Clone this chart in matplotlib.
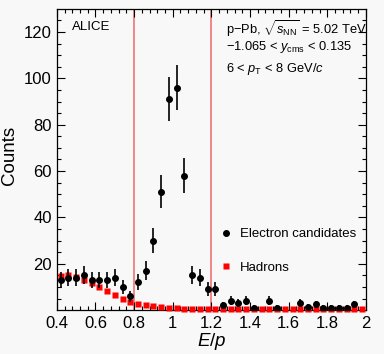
import matplotlib.pyplot as plt
import numpy as np
from matplotlib.lines import Line2D

plt.rcParams['font.family'] = ['Liberation Sans', 'DejaVu Sans']
plt.rcParams['mathtext.fontset'] = 'custom'
plt.rcParams['mathtext.rm'] = 'Liberation Sans'
plt.rcParams['mathtext.it'] = 'Liberation Sans:italic'
plt.rcParams['mathtext.sf'] = 'Liberation Sans'

# E/p bin centres (bin width 0.04)
ep = np.arange(0.42, 2.0, 0.04)

electrons = [13, 14, 14, 15, 13, 13, 13, 14, 10, 6,
             12, 17, 30, 51, 91, 96, 58, 15, 14, 9,
             9, 2, 4, 3, 4, 1, 0, 4, 1, 0,
             0, 3, 1.5, 2.5, 1, 1, 1, 1, 2.5, 0]
electron_err = [3.6, 3.7, 3.7, 3.9, 3.6, 3.6, 3.6, 3.7, 3.2, 2.4,
                3.5, 4.1, 5.5, 7.1, 9.5, 9.8, 7.6, 3.9, 3.7, 3.0,
                3.0, 1.4, 2.0, 1.7, 2.0, 1.0, 0, 2.0, 1.0, 0,
                0, 1.7, 1.2, 1.6, 1.0, 1.0, 1.0, 1.0, 1.6, 0]

hadrons = [14.7, 15, 14.4, 13, 11.8, 10, 8.4, 6.5, 5, 3.5,
           2.6, 2.2, 1.6, 1.3, 1.1, 0.7, 0.6, 0.5, 0.5, 0.4,
           0.4, 0.4, 0.4, 0.4, 0.4, 0.4, 0.4, 0.4, 0.4, 0.4,
           0.4, 0.4, 0.4, 0.4, 0.4, 0.4, 0.4, 0.4, 0.4, 0.4]

cut_lo, cut_hi = 0.8, 1.2

fig = plt.figure(figsize=(3.84, 3.54), dpi=100, facecolor='#f8f8f8')
ax = fig.add_axes([0.148, 0.124, 0.805, 0.851], facecolor='#f8f8f8')

ax.axvline(cut_lo, color='#f06868', lw=1.1, zorder=1)
ax.axvline(cut_hi, color='#f06868', lw=1.1, zorder=1)

mask = np.array(electrons) > 0
ax.plot(ep, hadrons, 's', color='#ff0000', ms=4.6, mec='none', clip_on=False, zorder=3)
ax.errorbar(ep[mask], np.array(electrons)[mask], yerr=np.array(electron_err)[mask],
            fmt='o', color='black', ms=4, elinewidth=1.2, capsize=0, zorder=4)

ax.set_xlim(0.4, 2.0)
ax.set_ylim(0, 130)
ax.set_xticks([0.4, 0.6, 0.8, 1.0, 1.2, 1.4, 1.6, 1.8, 2.0])
ax.set_xticklabels(['0.4', '0.6', '0.8', '1', '1.2', '1.4', '1.6', '1.8', '2'])
ax.set_xticks(np.arange(0.4, 2.001, 0.04), minor=True)
ax.set_yticks([20, 40, 60, 80, 100, 120])
ax.set_yticks(np.arange(5, 130, 5), minor=True)
ax.tick_params(which='both', direction='in', top=True, right=True, labelsize=12)
ax.tick_params(which='major', length=6, width=0.8)
ax.tick_params(which='minor', length=3, width=0.8)
ax.tick_params(axis='x', pad=4)
for s in ax.spines.values():
    s.set_linewidth(0.9)

ax.set_xlabel('$E/p$', fontsize=13.5, labelpad=0)
ax.set_ylabel('Counts', fontsize=13.5)
ax.yaxis.set_label_coords(-0.125, 0.515)

handles = [Line2D([], [], ls='none', marker='o', color='black', ms=4),
           Line2D([], [], ls='none', marker='s', color='#ff0000', mec='none', ms=4.6)]
ax.legend(handles, ['Electron candidates', 'Hadrons'], loc='upper left',
          bbox_to_anchor=(0.51, 0.29), frameon=False, fontsize=9.5,
          labelspacing=1.6, handletextpad=0.5, handlelength=1.0, borderaxespad=0)

ax.text(0.05, 0.93, 'ALICE', transform=ax.transAxes, fontsize=9.5, ha='left', va='baseline')
ax.text(0.547, 0.916, r'p$-$Pb, $\sqrt{s_{\rm NN}}$ = 5.02 TeV', transform=ax.transAxes,
        fontsize=9.3, ha='left', va='baseline')
ax.text(0.547, 0.862, r'$-$1.065 < $y_{\rm cms}$ < 0.135', transform=ax.transAxes,
        fontsize=9.3, ha='left', va='baseline')
ax.text(0.547, 0.789, r'6 < $p_{\rm T}$ < 8 GeV/$c$', transform=ax.transAxes,
        fontsize=9.3, ha='left', va='baseline')

fig.savefig('out.png', dpi=100, facecolor=fig.get_facecolor())
